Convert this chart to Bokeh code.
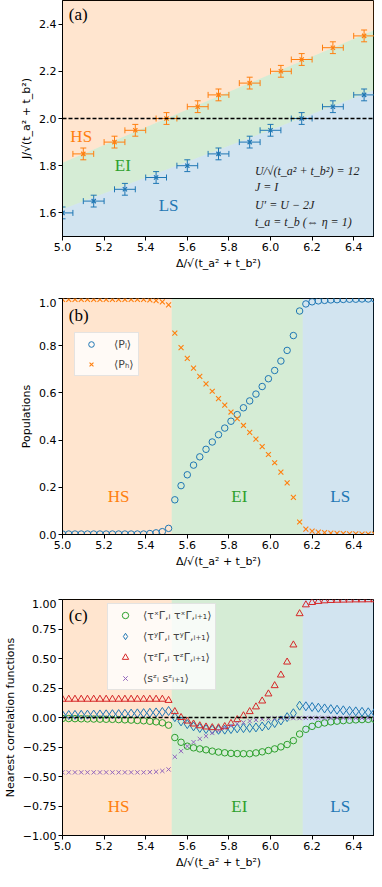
import numpy as np
from bokeh.plotting import figure
from bokeh.layouts import column
from bokeh.models import Range1d, FixedTicker, Span, Label, Legend, LegendItem, CustomJSTickFormatter
from bokeh.embed import file_html
from bokeh.resources import INLINE

# ---------------- data ----------------
xlim = [5.0, 6.5]
x_ticks = [5.0, 5.2, 5.4, 5.6, 5.8, 6.0, 6.2, 6.4]

# panel (a): phase boundaries with error bars
a_ylim = [1.5, 2.5]
a_yticks = [1.6, 1.8, 2.0, 2.2, 2.4]
a_ref_line = 2.0
a_blue_x = [5.0, 5.15, 5.3, 5.45, 5.6, 5.75, 5.9, 6.0, 6.15, 6.3, 6.45]
a_blue_y = [1.6, 1.65, 1.7, 1.75, 1.8, 1.85, 1.9, 1.95, 2.0, 2.05, 2.1]
a_orange_x = [5.1, 5.25, 5.35, 5.5, 5.65, 5.75, 5.9, 6.05, 6.15, 6.3, 6.45, 6.55]
a_orange_y = [1.85, 1.9, 1.95, 2.0, 2.05, 2.1, 2.15, 2.2, 2.25, 2.3, 2.35, 2.4]
a_xerr = 0.05
a_yerr = 0.025
a_phase_x = [5.0, 6.5]
a_hs_ei = [1.813, 2.375]
a_ei_ls = [1.615, 2.12]

# panels (b), (c)
phase_edges = [5.0, 5.525, 6.155, 6.5]
b_ylim = [0.0, 1.0]
b_yticks = [0.0, 0.2, 0.4, 0.6, 0.8, 1.0]
c_ylim = [-1.0, 1.0]
c_yticks = [-1.0, -0.75, -0.5, -0.25, 0.0, 0.25, 0.5, 0.75, 1.0]
c_ref_line = 0.0

delta = [5.00, 5.03, 5.06, 5.09, 5.12, 5.15, 5.18, 5.21, 5.24, 5.27,
         5.30, 5.33, 5.36, 5.39, 5.42, 5.45, 5.48, 5.51, 5.54, 5.57,
         5.60, 5.63, 5.66, 5.69, 5.72, 5.75, 5.78, 5.81, 5.84, 5.87,
         5.90, 5.93, 5.96, 5.99, 6.02, 6.05, 6.08, 6.11, 6.14, 6.17,
         6.20, 6.23, 6.26, 6.29, 6.32, 6.35, 6.38, 6.41, 6.44, 6.47, 6.50]

P_L = [0.002, 0.002, 0.002, 0.002, 0.002, 0.002, 0.002, 0.002, 0.002, 0.002,
       0.002, 0.002, 0.002, 0.002, 0.004, 0.007, 0.012, 0.026, 0.147, 0.207,
       0.253, 0.294, 0.329, 0.361, 0.392, 0.423, 0.451, 0.480, 0.508, 0.537,
       0.566, 0.595, 0.627, 0.660, 0.695, 0.735, 0.780, 0.843, 0.947, 0.977,
       0.986, 0.990, 0.992, 0.994, 0.995, 0.996, 0.997, 0.997, 0.998, 0.998, 0.998]

P_H = [0.996, 0.996, 0.996, 0.996, 0.996, 0.996, 0.996, 0.996, 0.996, 0.996,
       0.996, 0.996, 0.996, 0.996, 0.994, 0.991, 0.986, 0.973, 0.853, 0.792,
       0.746, 0.705, 0.670, 0.638, 0.607, 0.576, 0.548, 0.519, 0.491, 0.462,
       0.433, 0.404, 0.372, 0.339, 0.304, 0.264, 0.219, 0.157, 0.053, 0.023,
       0.014, 0.010, 0.008, 0.006, 0.005, 0.004, 0.003, 0.003, 0.002, 0.002, 0.002]

tau_x = [-0.008, -0.009, -0.010, -0.011, -0.012, -0.013, -0.014, -0.015, -0.016, -0.018,
         -0.020, -0.022, -0.025, -0.028, -0.032, -0.037, -0.045, -0.065, -0.170, -0.210,
         -0.243, -0.257, -0.266, -0.274, -0.285, -0.293, -0.299, -0.304, -0.306, -0.307,
         -0.307, -0.300, -0.291, -0.280, -0.266, -0.249, -0.229, -0.196, -0.140, -0.100,
         -0.075, -0.058, -0.046, -0.037, -0.031, -0.027, -0.023, -0.020, -0.018, -0.016, -0.015]

tau_y = [0.020, 0.021, 0.022, 0.023, 0.024, 0.025, 0.026, 0.027, 0.028, 0.029,
         0.031, 0.033, 0.035, 0.037, 0.040, 0.043, 0.047, 0.055, 0.003, -0.033,
         -0.056, -0.075, -0.089, -0.098, -0.103, -0.104, -0.103, -0.098, -0.092, -0.090,
         -0.088, -0.084, -0.076, -0.067, -0.047, -0.025, 0.003, 0.036, 0.100, 0.095,
         0.089, 0.083, 0.077, 0.071, 0.066, 0.061, 0.056, 0.052, 0.048, 0.044, 0.041]

tau_z = [0.155, 0.155, 0.155, 0.155, 0.155, 0.155, 0.155, 0.155, 0.155, 0.155,
         0.155, 0.155, 0.155, 0.155, 0.155, 0.155, 0.155, 0.145, 0.050, 0.000,
         -0.030, -0.055, -0.070, -0.080, -0.086, -0.087, -0.077, -0.050, -0.018, 0.015,
         0.050, 0.090, 0.140, 0.200, 0.270, 0.360, 0.470, 0.615, 0.880, 0.955,
         0.975, 0.984, 0.989, 0.992, 0.994, 0.995, 0.996, 0.997, 0.997, 0.998, 0.998]

szsz = [-0.465, -0.465, -0.465, -0.465, -0.465, -0.465, -0.465, -0.465, -0.465, -0.465,
        -0.465, -0.465, -0.465, -0.465, -0.463, -0.460, -0.453, -0.440, -0.333, -0.285,
        -0.243, -0.209, -0.181, -0.158, -0.131, -0.111, -0.090, -0.070, -0.053, -0.042,
        -0.030, -0.021, -0.014, -0.009, -0.007, -0.006, -0.005, -0.005, -0.005, -0.004,
        -0.004, -0.004, -0.004, -0.004, -0.004, -0.004, -0.004, -0.004, -0.004, -0.004, -0.004]

# ---------------- styles ----------------
C0, C1, C2, C3, C4 = "#1f77b4", "#ff7f0e", "#2ca02c", "#d62728", "#9467bd"
SANS = "DejaVu Sans"
SERIF = "Liberation Serif"
XLABEL = "Δ/√(t_a² + t_b²)"
W = 374
LEFT = 54


def fmt(d):
    return CustomJSTickFormatter(code="return tick.toFixed(%d).replace('-', '\\u2212');" % d)


def make_fig(height, ylim, bottom, yticks, ydec, ylabel):
    p = figure(width=W, height=height, x_range=Range1d(*xlim), y_range=Range1d(*ylim),
               output_backend="svg", toolbar_location=None,
               min_border_left=LEFT, min_border_right=0, min_border_top=0,
               min_border_bottom=bottom)
    p.grid.visible = False
    p.outline_line_color = "black"
    p.outline_line_width = 1
    p.outline_line_alpha = 1
    p.background_fill_color = "white"
    p.border_fill_color = "white"
    for ax in (p.xaxis[0], p.yaxis[0]):
        ax.major_tick_out = 4
        ax.major_tick_in = 0
        ax.minor_tick_out = 0
        ax.minor_tick_in = 0
        ax.axis_line_color = "black"
        ax.major_tick_line_color = "black"
        ax.major_label_text_font = SANS
        ax.major_label_text_font_size = "11px"
        ax.major_label_text_color = "black"
        ax.major_label_standoff = 2
        ax.axis_label_text_font = SANS
        ax.axis_label_text_font_size = "11px"
        ax.axis_label_text_font_style = "normal"
        ax.axis_label_text_color = "black"
        ax.axis_label_standoff = 3
    p.xaxis[0].ticker = FixedTicker(ticks=x_ticks)
    p.xaxis[0].formatter = fmt(1)
    p.xaxis[0].axis_label = XLABEL
    p.yaxis[0].ticker = FixedTicker(ticks=yticks)
    p.yaxis[0].formatter = fmt(ydec)
    p.yaxis[0].axis_label = ylabel
    return p


def phase_text(p, xs, y, size="17px"):
    for x, t, c in zip(xs, ["HS", "EI", "LS"], [C1, C2, C0]):
        p.add_layout(Label(x=x, y=y, text=t, text_color=c, text_font=SERIF,
                           text_font_size=size, text_align="center", text_baseline="middle"))


def panel_tag(p, x, y, t):
    p.add_layout(Label(x=x, y=y, text=t, text_font=SERIF, text_font_size="17px",
                       text_align="left", text_baseline="middle", text_color="black"))


def bands(p, ylim):
    p.quad(left=phase_edges[:-1], right=phase_edges[1:], bottom=ylim[0], top=ylim[1],
           fill_color=[C1, C2, C0], fill_alpha=0.2, line_color=None)


# ---------------- panel (a) ----------------
pa = make_fig(298, a_ylim, 62, a_yticks, 1, "J/√(t_a² + t_b²)")
pa.varea(x=a_phase_x, y1=a_hs_ei, y2=[a_ylim[1]] * 2, fill_color=C1, fill_alpha=0.2)
pa.varea(x=a_phase_x, y1=a_ei_ls, y2=a_hs_ei, fill_color=C2, fill_alpha=0.2)
pa.varea(x=a_phase_x, y1=[a_ylim[0]] * 2, y2=a_ei_ls, fill_color=C0, fill_alpha=0.2)
pa.add_layout(Span(location=a_ref_line, dimension="width", line_color="black",
                   line_dash="4 2", line_width=1.5))
for xs, ys, c in [(a_blue_x, a_blue_y, C0), (a_orange_x, a_orange_y, C1)]:
    xs = np.array(xs)
    ys = np.array(ys)
    pa.segment(x0=xs - a_xerr, y0=ys, x1=xs + a_xerr, y1=ys, line_color=c, line_width=1)
    pa.segment(x0=xs, y0=ys - a_yerr, x1=xs, y1=ys + a_yerr, line_color=c, line_width=1)
    pa.scatter(x=np.concatenate([xs - a_xerr, xs + a_xerr]), y=np.concatenate([ys, ys]),
               marker="dash", angle=np.pi / 2, size=6, line_color=c, line_width=1)
    pa.scatter(x=np.concatenate([xs, xs]), y=np.concatenate([ys - a_yerr, ys + a_yerr]),
               marker="dash", size=6, line_color=c, line_width=1)
    pa.scatter(x=xs, y=ys, marker="x", size=6, line_color=c, line_width=1.2)
panel_tag(pa, 5.03, 2.44, "(a)")
pa.add_layout(Label(x=5.09, y=1.925, text="HS", text_color=C1, text_font=SERIF,
                    text_font_size="17px", text_align="center", text_baseline="middle"))
pa.add_layout(Label(x=5.29, y=1.80, text="EI", text_color=C2, text_font=SERIF,
                    text_font_size="17px", text_align="center", text_baseline="middle"))
pa.add_layout(Label(x=5.51, y=1.633, text="LS", text_color=C0, text_font=SERIF,
                    text_font_size="17px", text_align="center", text_baseline="middle"))
for yy, t in [(1.779, "U/√(t_a² + t_b²) = 12"), (1.708, "J = I"),
              (1.633, "U′ = U − 2J"), (1.563, "t_a = t_b (⇔ η = 1)")]:
    pa.add_layout(Label(x=5.925, y=yy, text=t, text_font=SERIF, text_font_size="12px",
                        text_font_style="italic", text_color="#222222",
                        text_align="left", text_baseline="middle"))

# ---------------- panel (b) ----------------
pb = make_fig(301, b_ylim, 65, b_yticks, 1, "Populations")
bands(pb, b_ylim)
rL = pb.scatter(x=delta, y=P_L, marker="circle", size=6.5, fill_color=None,
                line_color=C0, line_width=1)
rH = pb.scatter(x=delta, y=P_H, marker="x", size=7, line_color=C1, line_width=1.1)
panel_tag(pb, 5.03, 0.93, "(b)")
phase_text(pb, [5.27, 5.85, 6.335], 0.16)
lb = Legend(items=[LegendItem(label="⟨Pₗ⟩", renderers=[rL]),
                   LegendItem(label="⟨Pₕ⟩", renderers=[rH])],
            location=(12, 158))
lb.background_fill_alpha = 0.8
lb.border_line_color = "#cccccc"
lb.border_line_width = 1
lb.label_text_font = SANS
lb.label_text_font_size = "11px"
lb.glyph_width = 24
lb.glyph_height = 14
lb.label_height = 14
lb.label_standoff = 11
lb.spacing = 6
lb.padding = 4
lb.margin = 0
pb.add_layout(lb)

# ---------------- panel (c) ----------------
pc = make_fig(279, c_ylim, 43, c_yticks, 2, "Nearest correlation functions")
bands(pc, c_ylim)
pc.add_layout(Span(location=c_ref_line, dimension="width", line_color="black",
                   line_dash="4 2", line_width=1.5))
r1 = pc.scatter(x=delta, y=tau_x, marker="circle", size=6.5, fill_color=None,
                line_color=C2, line_width=1)
r2 = pc.scatter(x=delta, y=tau_y, marker="diamond", size=9, fill_color=None,
                line_color=C0, line_width=1)
r3 = pc.scatter(x=delta, y=tau_z, marker="triangle", size=7, fill_color=None,
                line_color=C3, line_width=1)
r4 = pc.scatter(x=delta, y=szsz, marker="x", size=6, line_color=C4, line_width=1)
panel_tag(pc, 5.03, 0.866, "(c)")
phase_text(pc, [5.27, 5.85, 6.335], -0.75)
lc = Legend(items=[LegendItem(label="⟨τˣΓ,ᵢ τˣΓ,ᵢ₊₁⟩", renderers=[r1]),
                   LegendItem(label="⟨τʸΓ,ᵢ τʸΓ,ᵢ₊₁⟩", renderers=[r2]),
                   LegendItem(label="⟨τᶻΓ,ᵢ τᶻΓ,ᵢ₊₁⟩", renderers=[r3]),
                   LegendItem(label="⟨sᶻᵢ sᶻᵢ₊₁⟩", renderers=[r4])],
            location=(45, 145))
lc.background_fill_alpha = 0.8
lc.border_line_color = "#cccccc"
lc.border_line_width = 1
lc.label_text_font = SANS
lc.label_text_font_size = "11px"
lc.glyph_width = 28
lc.glyph_height = 16
lc.label_height = 16
lc.label_standoff = 4
lc.spacing = 5
lc.padding = 3
lc.margin = 0
pc.add_layout(lc)

layout = column(pa, pb, pc, spacing=0)
open("out.html", "w").write(file_html(layout, INLINE))
